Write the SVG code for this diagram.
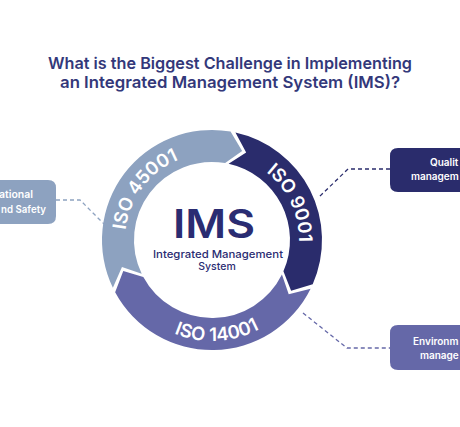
<svg xmlns="http://www.w3.org/2000/svg" width="460" height="427" viewBox="0 0 460 427">
<style>
.title{font-family:Inter,"Noto Sans",sans-serif;font-weight:600;font-size:16.5px;fill:#33387a}
.band{font-family:Inter,"Noto Sans",sans-serif;font-weight:600;font-size:18.5px;fill:#ffffff}
.box{font-family:Inter,"Noto Sans",sans-serif;font-weight:600;font-size:10.5px;fill:#ffffff}
.boxr{font-family:Inter,"Noto Sans",sans-serif;font-weight:600;font-size:10px;fill:#ffffff}
.dash{fill:none;stroke-width:1.3;stroke-dasharray:4 3}
</style>
<defs>
<path id="arcL" d="M 131.92 273.99 A 87 87 0 0 1 222.60 153.65"/>
<path id="arcD" d="M 219.58 153.33 A 87 87 0 0 1 283.27 289.90"/>
<path id="arcP" d="M 127.29 295.01 A 101 101 0 0 0 301.99 285.85"/>
</defs>
<rect width="460" height="427" fill="#ffffff"/>
<g id="title">
<text class="title" x="230" y="68.5" text-anchor="middle" textLength="364" lengthAdjust="spacingAndGlyphs">What is the Biggest Challenge in Implementing</text>
<text class="title" x="230" y="88" text-anchor="middle" textLength="340" lengthAdjust="spacingAndGlyphs">an Integrated Management System (IMS)?</text>
</g>
<g id="connectors">
<polyline class="dash" stroke="#8da2c0" points="56,200 80,200 107,227"/>
<polyline class="dash" stroke="#2a2c6c" points="390,169 348,169 318,198"/>
<polyline class="dash" stroke="#6568a8" points="303,313 347,348 390,348"/>
</g>
<g id="iso45001">
<path fill="#8da2c0" d="M 112.88 287.71 A 110 110 0 0 1 230.54 131.57 L 242.14 150.96 L 225.14 163.12 A 78 78 0 0 0 141.71 273.83 L 121.97 267.01 Z"/>
<text class="band"><textPath href="#arcL" startOffset="50%" text-anchor="middle">ISO 45001</textPath></text>
</g>
<g id="iso9001">
<path fill="#2a2c6c" d="M 235.43 132.53 A 110 110 0 0 1 312.73 284.21 L 291.10 290.78 L 283.42 271.35 A 78 78 0 0 0 228.61 163.79 L 246.15 152.42 Z"/>
<text class="band"><textPath href="#arcD" startOffset="50%" text-anchor="middle">ISO 9001</textPath></text>
</g>
<g id="iso14001">
<path fill="#6568a8" d="M 310.62 288.74 A 110 110 0 0 1 115.14 292.15 L 123.28 271.07 L 143.32 276.98 A 78 78 0 0 0 281.93 274.56 L 288.71 294.32 Z"/>
<text class="band"><textPath href="#arcP" startOffset="50%" text-anchor="middle">ISO 14001</textPath></text>
</g>
<g id="ims">
<text x="214" y="238" text-anchor="middle" font-family="Inter,'Noto Sans',sans-serif" font-weight="600" font-size="39" fill="#2a2c72" textLength="82" lengthAdjust="spacingAndGlyphs">IMS</text>
<text x="218" y="258" text-anchor="middle" font-family="Inter,'Noto Sans',sans-serif" font-weight="500" font-size="10.5" fill="#2a2c72" textLength="130" lengthAdjust="spacingAndGlyphs">Integrated Management</text>
<text x="217" y="270" text-anchor="middle" font-family="Inter,'Noto Sans',sans-serif" font-weight="500" font-size="10.5" fill="#2a2c72">System</text>
</g>
<g id="box-ohs">
<path d="M 0 180 H 48 Q 56 180 56 188 V 216 Q 56 224 48 224 H 0 Z" fill="#8da2c0"/>
<text class="box" x="33" y="198" text-anchor="end">ational</text>
<text class="box" x="1" y="213" textLength="45" lengthAdjust="spacingAndGlyphs">nd Safety</text>
</g>
<g id="box-quality">
<path d="M 460 148 H 398 Q 390 148 390 156 V 184 Q 390 192 398 192 H 460 Z" fill="#2a2c6c"/>
<text class="boxr" x="430" y="166">Qualit</text>
<text class="boxr" x="411" y="180">managem</text>
</g>
<g id="box-env">
<path d="M 460 325 H 398 Q 390 325 390 333 V 362 Q 390 370 398 370 H 460 Z" fill="#6568a8"/>
<text class="boxr" x="413" y="345">Environm</text>
<text class="boxr" x="420" y="359">manage</text>
</g>
</svg>
